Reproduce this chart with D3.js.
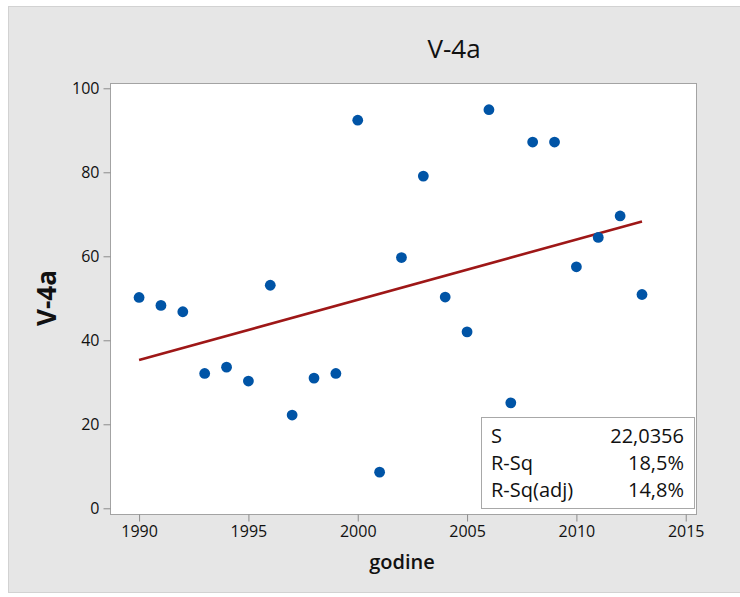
<!DOCTYPE html>
<html>
<head>
<meta charset="utf-8">
<script src="https://cdn.jsdelivr.net/npm/d3@7"></script>
<style>
  body{margin:0;background:#fff;}
  text{font-family:"Open Sans","Noto Sans",sans-serif;fill:#111;}
</style>
</head>
<body>
<div id="chart"></div>
<script>
// data
var years   = [1990,1991,1992,1993,1994,1995,1996,1997,1998,1999,2000,2001,
               2002,2003,2004,2005,2006,2007,2008,2009,2010,2011,2012,2013];
var values  = [50.2,48.3,46.8,32.1,33.6,30.3,53.1,22.2,31.0,32.1,92.4,8.6,
               59.7,79.1,50.3,42.0,94.9,25.1,87.2,87.2,57.5,64.5,69.6,50.9];
var fitYears  = [1990,2013];
var fitValues = [35.3,68.3];
var xTicks = [1990,1995,2000,2005,2010,2015];
var yTicks = [0,20,40,60,80,100];
var statLabels = ["S","R-Sq","R-Sq(adj)"];
var statValues = ["22,0356","18,5%","14,8%"];

function init(){
    var W=740, H=597;
    var svg=d3.select("#chart").append("svg").attr("width",W).attr("height",H);

    //BACKGROUND PANEL
    svg.append("rect").attr("x",8.5).attr("y",6.5).attr("width",W).attr("height",586)
                      .style("fill","#e6e6e6").style("stroke","#d2d2d2")

    var left=110, top=83, right=696, bottom=514;

    var x=d3.scaleLinear().domain([1988.67,2015.47]).range([left,right]);
    var y=d3.scaleLinear().domain([-1.36,101.26]).range([bottom,top]);

    //PLOT AREA
    svg.append("rect").attr("x",left+0.5).attr("y",top+0.5)
                      .attr("width",right-left).attr("height",bottom-top)
                      .style("fill","white").style("stroke","#a3a3a3")

    //AXES
    var ya=svg.append("g").attr("transform","translate("+(left+0.5)+",0)")
              .call(d3.axisLeft(y).tickValues(yTicks).tickSize(7).tickPadding(4));
    var xa=svg.append("g").attr("transform","translate(0,"+(bottom+0.5)+")")
              .call(d3.axisBottom(x).tickValues(xTicks).tickFormat(d3.format("d")).tickSize(7).tickPadding(4));
    [ya,xa].forEach(function(a){
        a.select(".domain").remove();
        a.selectAll(".tick line").style("stroke","#8c8c8c");
        a.selectAll(".tick text").style("font-size","16px").style("fill","#111").style("font-weight","500")
         .style("font-family","'Open Sans','Noto Sans',sans-serif");
    });

    //FIT LINE
    var line=d3.line().x(function(d){return x(d[0]);}).y(function(d){return y(d[1]);});
    svg.append("path").datum(d3.zip(fitYears,fitValues)).attr("d",line)
       .style("fill","none").style("stroke","#9e1717").style("stroke-width",2.6)

    //POINTS
    svg.append("g").selectAll("circle").data(d3.zip(years,values)).enter().append("circle")
       .attr("cx",function(d){return x(d[0]);}).attr("cy",function(d){return y(d[1]);})
       .attr("r",5.4).style("fill","#0054a6")

    //STATS BOX
    var box=svg.append("g");
    box.append("rect").attr("x",481.5).attr("y",417.5).attr("width",213).attr("height",91)
       .style("fill","white").style("stroke","#a8a8a8")
    statLabels.forEach(function(s,i){
        box.append("text").attr("x",491).attr("y",443+i*27).style("font-size","20px").style("font-weight","500").text(s);
        box.append("text").attr("x",684).attr("y",443+i*27).attr("text-anchor","end")
           .style("font-size","20px").style("font-weight","500").text(statValues[i]);
    });

    //TITLES
    svg.append("text").attr("x",454).attr("y",58).attr("text-anchor","middle")
       .style("font-size","26px").style("font-weight","500").text("V-4a");
    svg.append("text").attr("transform","translate(56,298) rotate(-90)").attr("text-anchor","middle")
       .style("font-size","26px").style("font-weight","bold").text("V-4a");
    svg.append("text").attr("x",402).attr("y",569).attr("text-anchor","middle")
       .style("font-size","20px").style("font-weight","600").text("godine");
}
init();
</script>
</body>
</html>
